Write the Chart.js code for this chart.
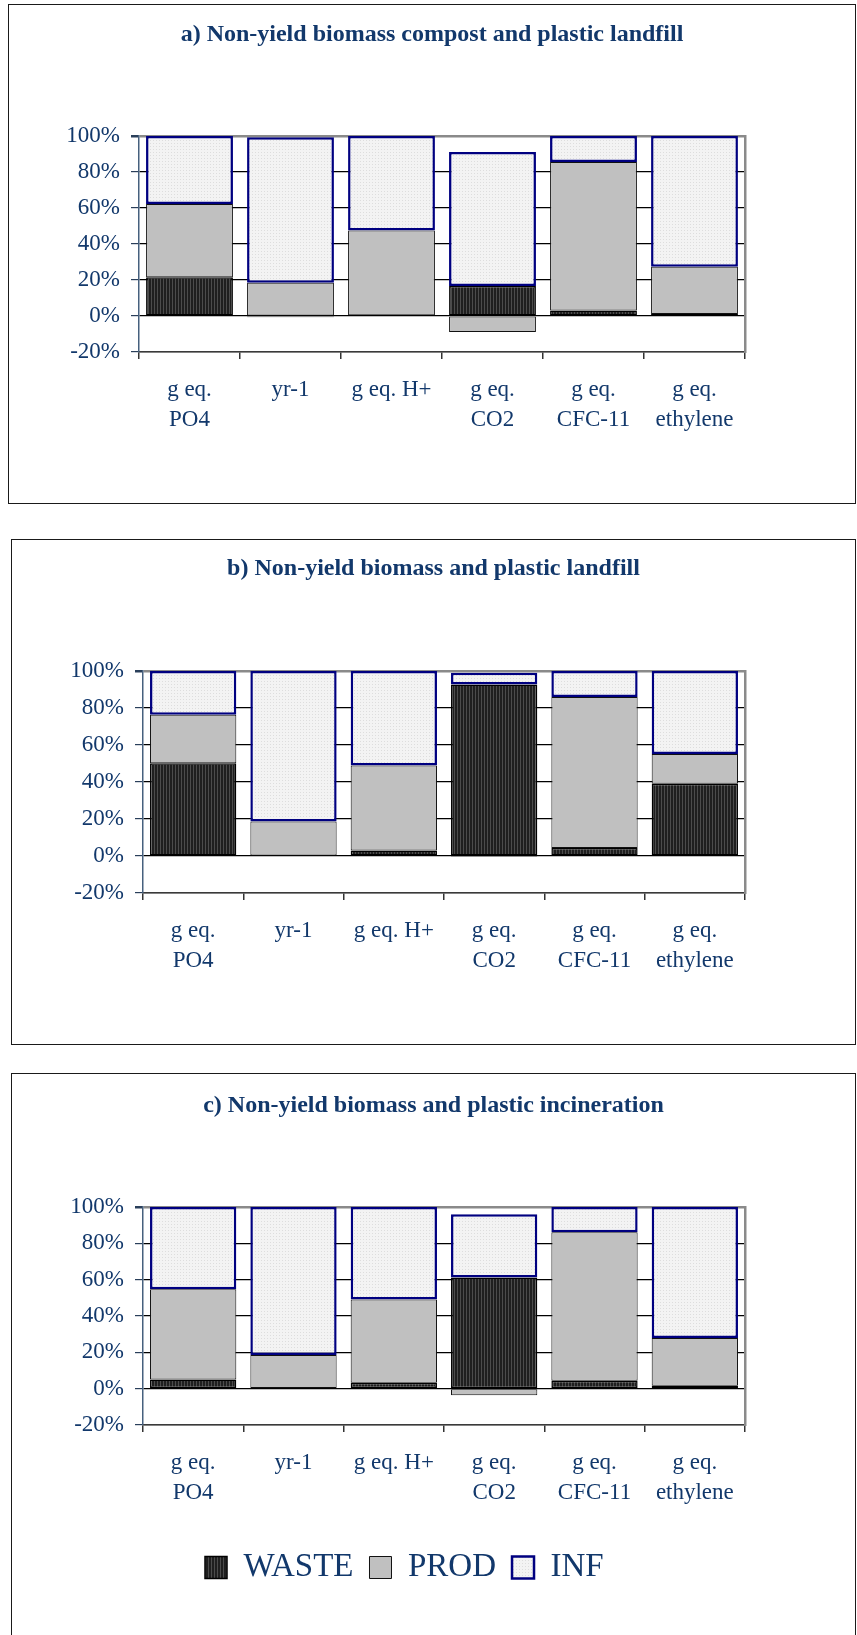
<!DOCTYPE html>
<html>
<head>
<meta charset="utf-8">
<script src="https://cdn.jsdelivr.net/npm/chart.js@4/dist/chart.umd.min.js"></script>
<style>
  html, body { margin: 0; padding: 0; background: #fff; }
  body { width: 857px; height: 1635px; position: relative; overflow: hidden; }
  .box { position: absolute; border: 1.5px solid #1a1a1a; box-sizing: border-box; }
  canvas { position: absolute; }
</style>
</head>
<body>
<div class="box" id="boxA"></div>
<div class="box" id="boxB"></div>
<div class="box" id="boxC"></div>
<canvas id="chartA"></canvas>
<canvas id="chartB"></canvas>
<canvas id="chartC"></canvas>
<script>
const categories = [['g eq.', 'PO4'], 'yr-1', 'g eq. H+', ['g eq.', 'CO2'], ['g eq.', 'CFC-11'], ['g eq.', 'ethylene']];
const seriesNames = ['WASTE', 'PROD', 'INF'];

// a) compost + landfill
const wasteA = [21.5, -0.7, 0.4, 16.7, 3.0, 1.1];
const prodA = [40.7, 18.5, 47.1, -8.9, 82.6, 26.3];
const infA = [37.8, 80.8, 52.5, 74.4, 14.4, 72.6];

// b) landfill
const wasteB = [50.2, 0, 3.0, 92.7, 4.3, 39.1];
const prodB = [26.1, 18.6, 45.9, -0.5, 81.7, 16.1];
const infB = [23.7, 81.4, 51.1, 6.4, 14.0, 44.8];

// c) incineration
const wasteC = [5.0, 0.3, 3.2, 61.2, 4.4, 1.6];
const prodC = [49.7, 18.3, 45.9, -3.6, 81.7, 26.3];
const infC = [45.3, 81.4, 50.9, 34.8, 13.9, 72.1];

const yTicks = [-20, 0, 20, 40, 60, 80, 100];

const TEXT = '#12386b';
const SERIF = "'Liberation Serif', 'Times New Roman', serif";

function makePattern(w, h, base, dots) {
  const c = document.createElement('canvas');
  c.width = w; c.height = h;
  const x = c.getContext('2d');
  x.fillStyle = base;
  x.fillRect(0, 0, w, h);
  x.fillStyle = dots.color;
  dots.pts.forEach(p => x.fillRect(p[0], p[1], p[2] || 1, p[3] || 1));
  return x.createPattern(c, 'repeat');
}

const wasteFill = makePattern(3, 1, '#1f1f1f', { color: '#4c4c4c', pts: [[2, 0]] });
const infFill = makePattern(3, 3, '#f3f3f3', { color: '#dddddd', pts: [[1, 1]] });

// moves the legend so it sits where the original one does
const legendShift = {
  id: 'legendShift',
  afterLayout(chart, args, opts) {
    if (!chart.legend || opts.left == null) return;
    const w = chart.legend.width;
    chart.legend.left = opts.left;
    chart.legend.right = opts.left + w;
  }
};

function makePanel(id, boxId, box, plot, titleCenter, title, waste, prod, inf, legend) {
  const boxEl = document.getElementById(boxId);
  boxEl.style.left = box.left + 'px';
  boxEl.style.top = box.top + 'px';
  boxEl.style.width = box.width + 'px';
  boxEl.style.height = box.height + 'px';

  const H = legend ? Math.min(box.height, 1635 - box.top) : box.height;
  const cv = document.getElementById(id);
  cv.width = box.width; cv.height = H;
  cv.style.left = box.left + 'px';
  cv.style.top = box.top + 'px';
  cv.style.width = box.width + 'px';
  cv.style.height = H + 'px';

  const pl = plot.left - box.left;
  const pr = plot.right - box.left;
  const pt = plot.top - box.top;
  const pb = plot.bottom - box.top;
  const tc = titleCenter - box.top;

  const titleLH = 24 * 1.2;
  const titleTop = tc - titleLH / 2;
  const titleBottom = pt - titleTop - titleLH;

  const legendH = legend ? legend.height : 0;
  const padBottom = legend ? legend.padBottom : 0;
  const xAxisH = H - padBottom - legendH - pb;

  return new Chart(cv.getContext('2d'), {
    type: 'bar',
    data: {
      labels: categories,
      datasets: [
        {
          label: seriesNames[0], data: waste,
          backgroundColor: wasteFill, borderColor: '#000000', borderWidth: 1.5, borderSkipped: false
        },
        {
          label: seriesNames[1], data: prod,
          backgroundColor: '#c0c0c0', borderColor: '#111111', borderWidth: 1, borderSkipped: false
        },
        {
          label: seriesNames[2], data: inf,
          backgroundColor: infFill, borderColor: '#000080', borderWidth: 2.5, borderSkipped: false
        }
      ]
    },
    options: {
      responsive: false,
      animation: false,
      devicePixelRatio: 1,
      layout: { padding: { left: 0, right: 0, top: 0, bottom: padBottom } },
      datasets: { bar: { barPercentage: 0.86, categoryPercentage: 1 } },
      plugins: {
        title: {
          display: true,
          text: title,
          color: TEXT,
          font: { family: SERIF, size: 24, weight: 'bold', lineHeight: 1.2 },
          padding: { top: titleTop, bottom: titleBottom }
        },
        legend: legend ? {
          display: true,
          position: 'bottom',
          align: 'start',
          labels: {
            color: TEXT,
            font: { family: SERIF, size: 33 },
            boxWidth: 22,
            boxHeight: 22,
            padding: 16
          }
        } : { display: false },
        legendShift: legend ? { left: legend.left } : {},
        tooltip: { enabled: false }
      },
      scales: {
        x: {
          stacked: true,
          grid: {
            offset: true,
            drawOnChartArea: false,
            drawTicks: true,
            tickLength: 7,
            tickColor: '#333333',
            lineWidth: 1.5
          },
          border: { color: '#3a3a3a', width: 1.5 },
          ticks: {
            color: TEXT,
            padding: 16,
            maxRotation: 0,
            autoSkip: false,
            font: { family: SERIF, size: 23, lineHeight: 1.3 }
          },
          afterFit: (s) => { s.height = xAxisH; }
        },
        y: {
          stacked: true,
          min: -20,
          max: 100,
          afterBuildTicks: (s) => { s.ticks = yTicks.map(v => ({ value: v })); },
          grid: {
            color: (c) => c.tick && c.tick.value === 100 ? '#8a8a8a' : (c.tick && c.tick.value === -20 ? '#3a3a3a' : '#000000'),
            lineWidth: (c) => c.tick && c.tick.value === 100 ? 2.5 : 1.2,
            tickLength: 8,
            tickColor: '#2a3f5a'
          },
          border: { color: '#46607e', width: 1.5 },
          ticks: {
            color: TEXT,
            padding: 11,
            font: { family: SERIF, size: 23 },
            callback: (v) => v + '%'
          },
          afterFit: (s) => { s.width = pl; }
        },
        y2: {
          position: 'right',
          min: -20,
          max: 100,
          grid: { drawOnChartArea: false, drawTicks: false },
          border: { color: '#8a8a8a', width: 2.5 },
          ticks: { display: false },
          afterFit: (s) => { s.width = box.width - pr; }
        }
      }
    },
    plugins: [legendShift]
  });
}

makePanel('chartA', 'boxA',
  { left: 8, top: 4, width: 848, height: 500 },
  { left: 139, right: 745, top: 136, bottom: 352 },
  35, 'a) Non-yield biomass compost and plastic landfill',
  wasteA, prodA, infA, null);

makePanel('chartB', 'boxB',
  { left: 11, top: 539, width: 845, height: 506 },
  { left: 143, right: 745, top: 671, bottom: 893 },
  569, 'b) Non-yield biomass and plastic landfill',
  wasteB, prodB, infB, null);

makePanel('chartC', 'boxC',
  { left: 11, top: 1073, width: 845, height: 600 },
  { left: 143, right: 745, top: 1207, bottom: 1425 },
  1106, 'c) Non-yield biomass and plastic incineration',
  wasteC, prodC, infC, { height: 59, padBottom: 41, left: 178 });
</script>
</body>
</html>
